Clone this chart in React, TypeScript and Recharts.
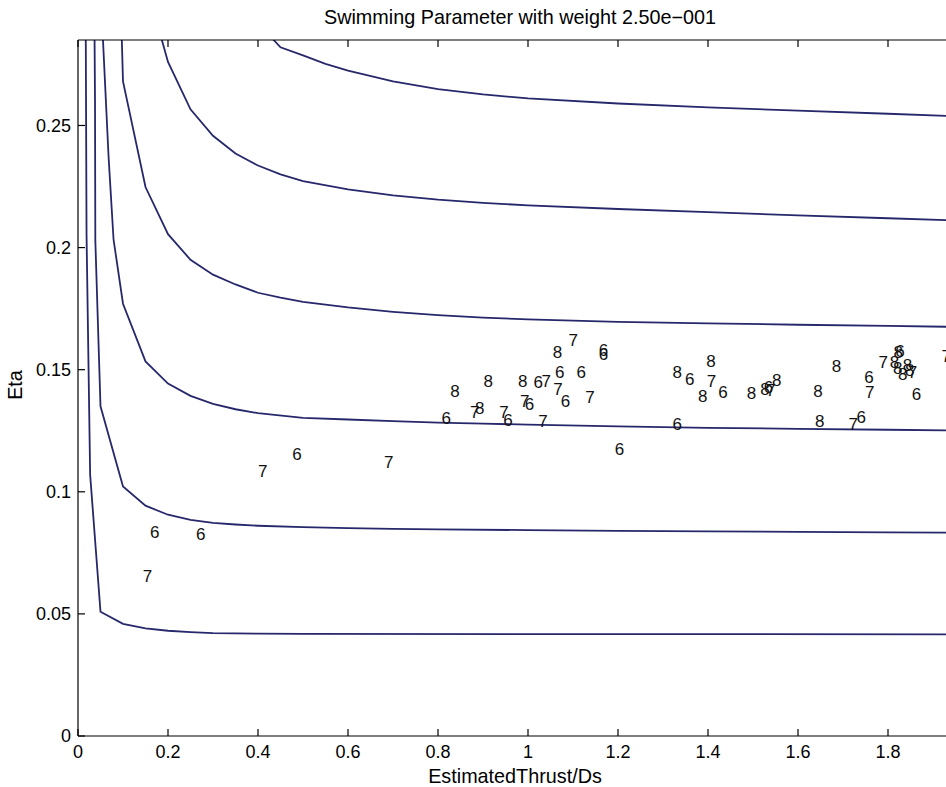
import React from 'react';
import { ComposedChart, Line, Scatter, XAxis, YAxis } from 'recharts';

// ---- contour curves: [EstimatedThrust/Ds, Eta] ----
const curve1: [number, number][] = [
  [0.017, 0.3], [0.019, 0.205], [0.027, 0.107], [0.05, 0.0509], [0.1, 0.0459], [0.15, 0.0441],
  [0.2, 0.0431], [0.25, 0.0425], [0.3, 0.0421], [0.4, 0.0419], [0.5, 0.0418], [1.0, 0.0417],
  [1.5, 0.0417], [2.0, 0.0416],
];
const curve2: [number, number][] = [
  [0.0355, 0.32], [0.0378, 0.26], [0.0385, 0.203], [0.05, 0.135], [0.1, 0.1022], [0.15, 0.0943],
  [0.2, 0.0906], [0.25, 0.0885], [0.3, 0.0873], [0.35, 0.0866], [0.4, 0.0861], [0.5, 0.0855],
  [0.6, 0.0851], [0.7, 0.0848], [0.8, 0.0846], [1.0, 0.0843], [1.2, 0.084], [1.4, 0.0838],
  [1.6, 0.0836], [1.8, 0.0834], [2.0, 0.0832],
];
const curve3: [number, number][] = [
  [0.0535, 0.3], [0.0555, 0.285], [0.068, 0.237], [0.079, 0.2033], [0.1, 0.177], [0.15, 0.1534],
  [0.2, 0.1443], [0.25, 0.1393], [0.3, 0.136], [0.35, 0.1338], [0.4, 0.1322], [0.5, 0.1303],
  [0.6, 0.1296], [0.7, 0.1289], [0.8, 0.1283], [0.9, 0.1279], [1.0, 0.1275], [1.2, 0.1268],
  [1.4, 0.1262], [1.6, 0.1258], [1.8, 0.1254], [2.0, 0.125],
];
const curve4: [number, number][] = [
  [0.092, 0.32], [0.1, 0.268], [0.15, 0.2248], [0.2, 0.2055], [0.25, 0.195], [0.3, 0.1889],
  [0.35, 0.1849], [0.4, 0.1815], [0.45, 0.1795], [0.5, 0.1778], [0.6, 0.1755], [0.7, 0.1737],
  [0.8, 0.1723], [0.9, 0.1713], [1.0, 0.1706], [1.2, 0.1696], [1.4, 0.169], [1.6, 0.1684],
  [1.8, 0.1679], [2.0, 0.1674],
];
const curve5: [number, number][] = [
  [0.15, 0.309], [0.2, 0.276], [0.25, 0.2566], [0.3, 0.2458], [0.35, 0.2385], [0.4, 0.2336],
  [0.45, 0.23], [0.5, 0.2272], [0.6, 0.2238], [0.7, 0.2214], [0.8, 0.2196], [0.9, 0.2183],
  [1.0, 0.2173], [1.2, 0.2158], [1.4, 0.2145], [1.6, 0.2132], [1.8, 0.212], [2.0, 0.2108],
];
const curve6: [number, number][] = [
  [0.4, 0.292], [0.45, 0.282], [0.5, 0.2787], [0.55, 0.2752], [0.6, 0.2725], [0.7, 0.2681],
  [0.8, 0.2649], [0.9, 0.2627], [1.0, 0.2611], [1.2, 0.259], [1.4, 0.2574], [1.6, 0.2561],
  [1.8, 0.2548], [2.0, 0.2535],
];

// ---- digit markers ----
const markThrust = [
  0.144, 0.16, 0.262, 0.4, 0.476, 0.68, 1.193,
  0.808, 0.827, 0.901, 0.871, 0.882, 0.936, 0.945, 0.978, 0.982, 0.993, 1.012, 1.03, 1.023,
  1.055, 1.09, 1.06, 1.056, 1.073, 1.108, 1.127, 1.157, 1.157,
  1.321, 1.349, 1.396, 1.397, 1.378, 1.423, 1.321, 1.486, 1.516, 1.524, 1.529, 1.542,
  1.634, 1.675, 1.638, 1.712, 1.73, 1.747, 1.749, 1.853,
  1.779, 1.804, 1.812, 1.816, 1.811, 1.833, 1.822, 1.838, 1.844, 1.919,
];
const markEta = [
  0.0656, 0.0834, 0.0828, 0.1086, 0.1156, 0.1123, 0.1176,
  0.1303, 0.1415, 0.1456, 0.1328, 0.1344, 0.1329, 0.1296, 0.1456, 0.1372, 0.1361, 0.1452, 0.1456, 0.1292,
  0.1572, 0.162, 0.149, 0.1421, 0.1374, 0.1489, 0.1387, 0.158, 0.1564,
  0.149, 0.1463, 0.1537, 0.1455, 0.1393, 0.1408, 0.1279, 0.1404, 0.1422, 0.143, 0.1418, 0.1459,
  0.1414, 0.1516, 0.1291, 0.1279, 0.1305, 0.1469, 0.1408, 0.1402,
  0.1534, 0.1534, 0.1572, 0.1578, 0.1508, 0.152, 0.1482, 0.15, 0.149, 0.1557,
];
const markDigit = [
  '7', '6', '6', '7', '6', '7', '6',
  '6', '8', '8', '7', '8', '7', '6', '8', '7', '6', '6', '7', '7',
  '8', '7', '6', '7', '6', '6', '7', '6', '6',
  '8', '6', '8', '7', '8', '6', '6', '8', '8', '6', '7', '8',
  '8', '8', '8', '7', '6', '6', '7', '6',
  '7', '8', '8', '6', '8', '8', '8', '8', '7', '7',
];

const xTicks = [0, 0.2, 0.4, 0.6, 0.8, 1, 1.2, 1.4, 1.6, 1.8];
const yTicks = [0, 0.05, 0.1, 0.15, 0.2, 0.25];

const curves = [curve1, curve2, curve3, curve4, curve5, curve6].map((c) =>
  c.map(([thrust, eta]) => ({ thrust, eta }))
);
const marks = markThrust.map((thrust, i) => ({ thrust, eta: markEta[i], digit: markDigit[i] }));

const FONT = '"Liberation Sans", Arial, Helvetica, sans-serif';
const LINE = '#26286b';

const DigitShape = (props: any) => {
  const { cx, cy, payload } = props;
  return (
    <text x={cx} y={cy} dy="0.36em" fontSize={17} fontFamily={FONT} fill="#111">
      {payload.digit}
    </text>
  );
};

export default function App() {
  return (
    <div
      style={{
        position: 'fixed',
        left: 0,
        top: 0,
        width: 946,
        height: 787,
        overflow: 'hidden',
        background: '#fff',
      }}
    >
      <ComposedChart
        width={1000}
        height={787}
        margin={{ top: 30, right: 22, bottom: 0, left: 0 }}
        style={{ fontFamily: FONT }}
      >
        <XAxis
          xAxisId="bottom"
          dataKey="thrust"
          type="number"
          domain={[0, 2]}
          allowDataOverflow
          ticks={xTicks}
          interval={0}
          height={51}
          tickSize={-7}
          tickMargin={16}
          stroke="#000"
          strokeWidth={1.2}
          tick={{ fill: '#000', fontSize: 18, fontFamily: FONT }}
        />
        <XAxis
          xAxisId="top"
          orientation="top"
          dataKey="thrust"
          type="number"
          domain={[0, 2]}
          allowDataOverflow
          ticks={xTicks}
          interval={0}
          height={10}
          tickSize={-7}
          tickFormatter={() => ''}
          stroke="#000"
          strokeWidth={1.2}
        />
        <YAxis
          dataKey="eta"
          type="number"
          domain={[0, 0.285]}
          allowDataOverflow
          ticks={yTicks}
          interval={0}
          width={78}
          tickSize={-7}
          tickMargin={14}
          stroke="#000"
          strokeWidth={1.2}
          tick={{ fill: '#000', fontSize: 18, fontFamily: FONT }}
        />
        {curves.map((data, i) => (
          <Line
            key={i}
            xAxisId="bottom"
            data={data}
            dataKey="eta"
            type="linear"
            stroke={LINE}
            strokeWidth={1.8}
            dot={false}
            activeDot={false}
            isAnimationActive={false}
          />
        ))}
        <Scatter
          xAxisId="bottom"
          data={marks}
          dataKey="eta"
          shape={<DigitShape />}
          isAnimationActive={false}
        />
      </ComposedChart>
      <svg
        width={946}
        height={787}
        style={{ position: 'absolute', left: 0, top: 0, pointerEvents: 'none' }}
      >
        <text x={520} y={24} textAnchor="middle" fontSize={19.8} fontFamily={FONT} fill="#000">
          Swimming Parameter with weight 2.50e−001
        </text>
        <text x={515} y={783} textAnchor="middle" fontSize={19.8} fontFamily={FONT} fill="#000">
          EstimatedThrust/Ds
        </text>
        <text
          transform="translate(22,385) rotate(-90)"
          textAnchor="middle"
          fontSize={19.8}
          fontFamily={FONT}
          fill="#000"
        >
          Eta
        </text>
      </svg>
    </div>
  );
}
